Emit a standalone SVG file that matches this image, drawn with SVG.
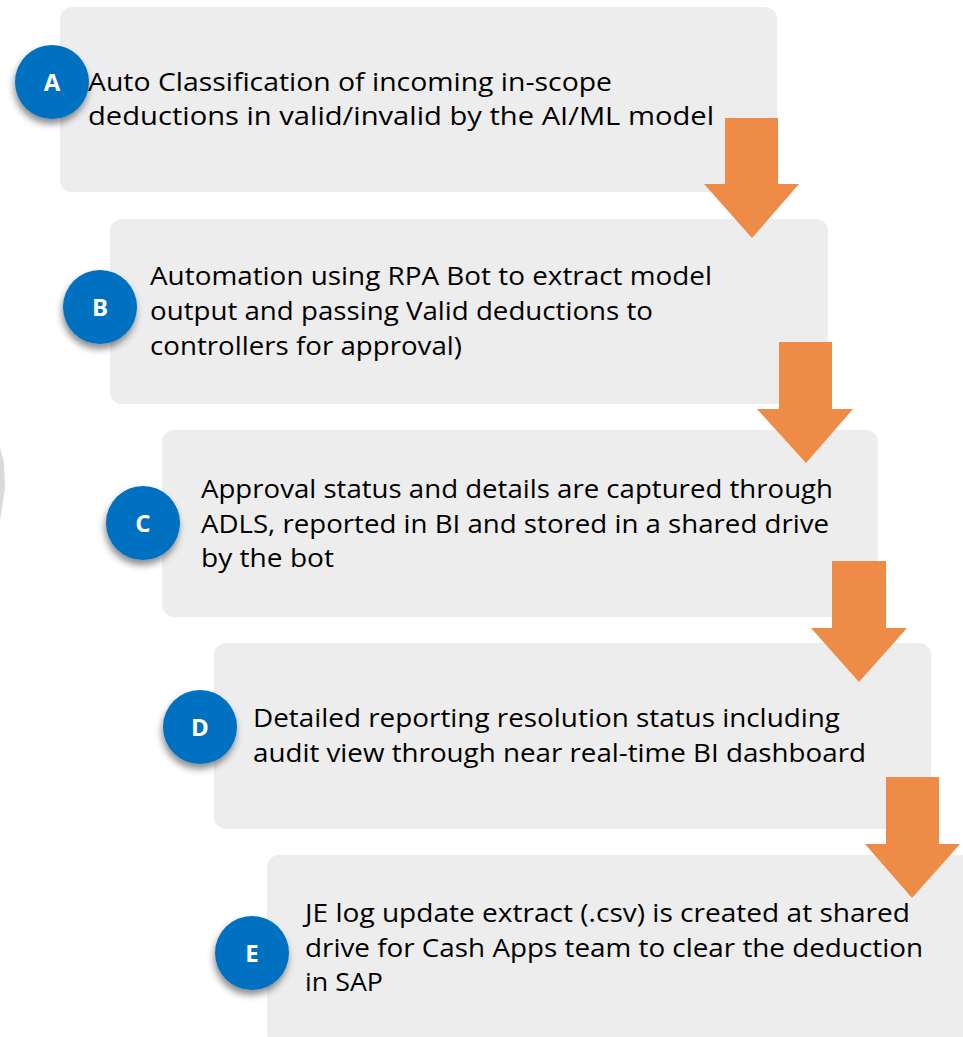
<svg xmlns="http://www.w3.org/2000/svg" width="963" height="1037" viewBox="0 0 963 1037">
  <style>
    .box { fill: #EDEDED; }
    .badge { fill: #0070C0; filter: url(#shadow); }
    .badge-label { font-family: "Open Sans", "Liberation Sans", sans-serif; font-size: 24px; font-weight: bold; fill: #FFFFFF; text-anchor: middle; }
    .body { font-family: "Open Sans", "Liberation Sans", sans-serif; font-size: 26px; fill: #000000; }
    .flow { fill: #EE8B47; }
  </style>
  <defs>
    <filter id="shadow" x="-40%" y="-40%" width="180%" height="190%">
      <feDropShadow dx="-1" dy="5" stdDeviation="3.5" flood-color="#000000" flood-opacity="0.45"/>
    </filter>
  </defs>

  <rect width="963" height="1037" fill="#FFFFFF"/>

  <!-- partial shape at the left margin -->
  <path d="M0,448 L4,462 L5,488 L0,520 Z" fill="#DADADA"/>

  <g id="step-a">
    <rect class="box" x="60" y="7" width="717" height="185" rx="12"/>
    <circle class="badge" cx="52" cy="82" r="37"/>
    <text class="badge-label" x="52" y="91">A</text>
    <text class="body" x="88" y="91" textLength="524" lengthAdjust="spacingAndGlyphs">Auto Classification of incoming in-scope</text>
    <text class="body" x="88" y="125" textLength="626" lengthAdjust="spacingAndGlyphs">deductions in valid/invalid by the AI/ML model</text>
  </g>

  <g id="step-b">
    <rect class="box" x="110" y="219" width="718" height="185" rx="12"/>
    <circle class="badge" cx="100" cy="307" r="37"/>
    <text class="badge-label" x="100" y="316">B</text>
    <text class="body" x="150" y="285" textLength="562" lengthAdjust="spacingAndGlyphs">Automation using RPA Bot to extract model</text>
    <text class="body" x="150" y="320" textLength="503" lengthAdjust="spacingAndGlyphs">output and passing Valid deductions to</text>
    <text class="body" x="150" y="355" textLength="312" lengthAdjust="spacingAndGlyphs">controllers for approval)</text>
  </g>

  <g id="step-c">
    <rect class="box" x="162" y="430" width="716" height="187" rx="12"/>
    <circle class="badge" cx="143" cy="523" r="37"/>
    <text class="badge-label" x="143" y="532">C</text>
    <text class="body" x="201" y="498" textLength="632" lengthAdjust="spacingAndGlyphs">Approval status and details are captured through</text>
    <text class="body" x="201" y="533" textLength="628" lengthAdjust="spacingAndGlyphs">ADLS, reported in BI and stored in a shared drive</text>
    <text class="body" x="201" y="567" textLength="133" lengthAdjust="spacingAndGlyphs">by the bot</text>
  </g>

  <g id="step-d">
    <rect class="box" x="214" y="643" width="717" height="186" rx="12"/>
    <circle class="badge" cx="200" cy="727" r="37"/>
    <text class="badge-label" x="200" y="736">D</text>
    <text class="body" x="253" y="727" textLength="587" lengthAdjust="spacingAndGlyphs">Detailed reporting resolution status including</text>
    <text class="body" x="253" y="762" textLength="613" lengthAdjust="spacingAndGlyphs">audit view through near real-time BI dashboard</text>
  </g>

  <g id="step-e">
    <rect class="box" x="267" y="855" width="717" height="190" rx="12"/>
    <circle class="badge" cx="252" cy="953" r="37"/>
    <text class="badge-label" x="252" y="962">E</text>
    <text class="body" x="305" y="922" textLength="605" lengthAdjust="spacingAndGlyphs">JE log update extract (.csv) is created at shared</text>
    <text class="body" x="305" y="957" textLength="618" lengthAdjust="spacingAndGlyphs">drive for Cash Apps team to clear the deduction</text>
    <text class="body" x="305" y="991" textLength="78" lengthAdjust="spacingAndGlyphs">in SAP</text>
  </g>

  <g id="connectors">
    <polygon class="flow" points="725,118 778,118 778,184 799,184 752,238 704,184 725,184"/>
    <polygon class="flow" points="779,342 832,342 832,409 853,409 806,463 757,409 779,409"/>
    <polygon class="flow" points="832,561 886,561 886,628 907,628 859,682 811,628 832,628"/>
    <polygon class="flow" points="886,777 939,777 939,844 960,844 912,898 865,844 886,844"/>
  </g>
</svg>
